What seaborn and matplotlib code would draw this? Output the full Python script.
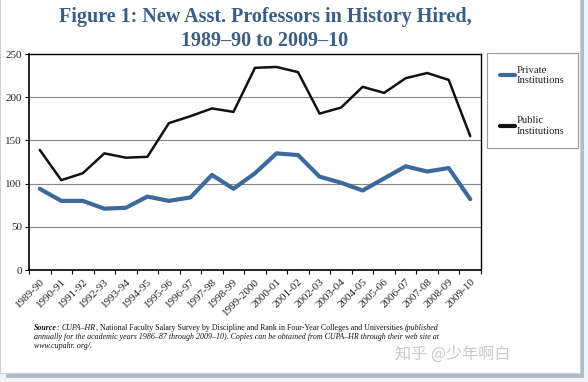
import matplotlib
matplotlib.use("Agg")
import matplotlib.pyplot as plt
import seaborn as sns
import pandas as pd
import numpy as np
from matplotlib.patches import Rectangle
from matplotlib.ticker import FixedLocator
from matplotlib.lines import Line2D

years = ["1989-90", "1990-91", "1991-92", "1992-93", "1993-94", "1994-95",
         "1995-96", "1996-97", "1997-98", "1998-99", "1999-2000", "2000-01",
         "2001-02", "2002-03", "2003-04", "2004-05", "2005-06", "2006-07",
         "2007-08", "2008-09", "2009-10"]
private = [94, 80, 80, 71, 72, 85, 80, 84, 110, 94, 112, 135, 133, 108, 101,
           92, 106, 120, 114, 118, 82]
public = [139, 104, 112, 135, 130, 131, 170, 178, 187, 183, 234, 235, 229,
          181, 188, 212, 205, 222, 228, 220, 155]
series_names = ["Private\nInstitutions", "Public\nInstitutions"]
yticks = [0, 50, 100, 150, 200, 250]

sns.set_theme(style="white")
plt.rcParams['font.family'] = ['Liberation Serif', 'DejaVu Serif']

df = pd.DataFrame({
    "idx": list(range(len(years))) * 2,
    "value": private + public,
    "series": [series_names[0]] * len(years) + [series_names[1]] * len(years),
})

W, H = 588, 382
fig = plt.figure(figsize=(5.88, 3.82), dpi=100)
fig.patch.set_facecolor("#f3f4f6")

# card with shadow
fig.patches.append(Rectangle((6 / W, 1 - 378 / H), 578 / W, 1.0, transform=fig.transFigure,
                             facecolor="#9aaabb", edgecolor="none", alpha=0.75, zorder=-3))
fig.patches.append(Rectangle((0.0, 1 - 373 / H), 580 / W, 1.0, transform=fig.transFigure,
                             facecolor="white", edgecolor="#c8d0d8", lw=0.8, zorder=-1))

ax = fig.add_axes([29 / W, 1 - 270 / H, 452 / W, 216 / H])
palette = {series_names[0]: "#3c6a9a", series_names[1]: "#111111"}
sns.lineplot(data=df, x="idx", y="value", hue="series", palette=palette, ax=ax,
             legend=False, sort=False)
for line, lw in zip(ax.get_lines(), [3.0, 1.8]):
    line.set_linewidth(lw)

ax.set_xlim(-0.5, len(years) - 0.5)
ax.set_ylim(0, 250)
ax.set_yticks(yticks)
ax.set_yticklabels([str(t) for t in yticks], fontsize=8)
ax.set_xticks(range(len(years)))
ax.set_xticklabels(years, rotation=45, ha="right", rotation_mode="anchor", fontsize=8)
ax.xaxis.set_minor_locator(FixedLocator(np.arange(-0.5, len(years), 1.0)))
ax.tick_params(axis="x", which="major", length=0, pad=5)
ax.tick_params(axis="x", which="minor", length=3, width=0.8, color="black", bottom=True)
ax.tick_params(axis="y", length=3, width=0.8, color="black", left=True, pad=2)
ax.set_xlabel("")
ax.set_ylabel("")
ax.grid(axis="y", color="#888888", lw=0.8)
ax.set_axisbelow(True)
for s in ax.spines.values():
    s.set_color("black")
    s.set_linewidth(1.0)
ax.spines["left"].set_linewidth(1.2)
ax.spines["bottom"].set_linewidth(1.2)

handles = [Line2D([], [], color=palette[n], lw=3.0) for n in series_names]
leg = fig.legend(handles, series_names, loc="upper left",
                 bbox_to_anchor=(487 / W, 1 - 53 / H), frameon=True, fancybox=False,
                 fontsize=7.7, handlelength=1.45, handletextpad=0.15,
                 labelspacing=2.9, borderpad=1.2, borderaxespad=0)
leg.get_frame().set_edgecolor("#7f7f7f")
leg.get_frame().set_linewidth(0.8)
for t in leg.get_texts():
    t.set_color("#222222")

fig.text(265 / W, 1 - 7 / H, "Figure 1: New Asst. Professors in History Hired,\n1989–90 to 2009–10",
         ha="center", va="top", fontsize=14.5, fontweight="bold", color="#3b5e84",
         linespacing=1.25)

# Source note, built from pieces with mixed styles
fs = 5.65
pieces_line1 = [("Source", "italic", "bold"), (": ", "italic", "normal"),
                ("CUPA–HR", "italic", "normal"),
                (", National Faculty Salary Survey by Discipline and Rank in Four-Year Colleges and Universities ",
                 "normal", "normal"),
                ("(published", "italic", "normal")]
x0 = 34 / W
renderer = fig.canvas.get_renderer()
x = x0
for txt, st, wt in pieces_line1:
    t = fig.text(x, 1 - 327.5 / H, txt, ha="left", va="center", fontsize=fs,
                 style=st, fontweight=wt, color="#111111")
    bb = t.get_window_extent(renderer=renderer)
    x += bb.width / W
fig.text(x0, 1 - 336.7 / H,
         "annually for the academic years 1986–87 through 2009–10). Copies can be obtained from CUPA–HR through their web site at",
         ha="left", va="center", fontsize=fs, style="italic", color="#111111")
fig.text(x0, 1 - 345.7 / H, "www.cupahr. org/.", ha="left", va="center", fontsize=fs,
         style="italic", color="#111111")

fig.text(395 / W, 1 - 354 / H, "知乎 @少年啊白", ha="left", va="center", fontsize=11.6,
         color="#c9c9c9", family=["Noto Sans CJK SC", "DejaVu Sans"])

fig.savefig("out.png", dpi=100)
